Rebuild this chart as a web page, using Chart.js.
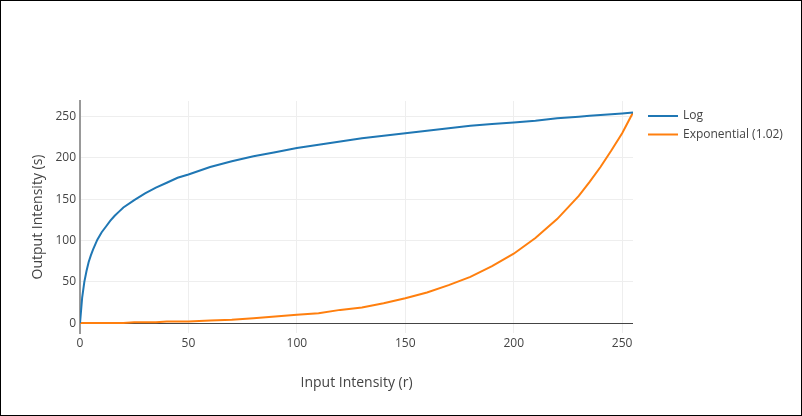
<!DOCTYPE html>
<html>
<head>
<meta charset="utf-8">
<script src="https://cdn.jsdelivr.net/npm/chart.js@4.4.0/dist/chart.umd.min.js"></script>
<style>
    html, body { margin: 0; padding: 0; background: #fff; }
    #box { width: 800px; height: 414px; border: 1px solid #000; }
    canvas { display: block; }
</style>
</head>
<body>
<div id="box"><canvas id="grafico" width="800" height="414"></canvas></div>
<script>
// Valores
var inputR = [0, 1, 2, 3, 4, 5, 6, 7, 8, 10, 12, 14, 16, 18, 20, 25, 30, 35, 40, 45, 50, 60, 70, 80, 90, 100,
    110, 120, 130, 140, 150, 160, 170, 180, 190, 200, 210, 220, 230, 235, 240, 245, 250, 255];
var logOut = [0, 31, 50, 63, 74, 82, 89, 95, 101, 110, 117, 124, 130, 135, 140, 149, 157, 164, 170, 176, 180, 189, 196, 202, 207, 212,
    216, 220, 224, 227, 230, 233, 236, 239, 241, 243, 245, 248, 250, 251, 252, 253, 254, 255];
var expOut = [0, 0, 0, 0, 0, 0, 0, 0, 0, 0, 0, 0, 0, 0, 0, 1, 1, 1, 2, 2, 2, 3, 4, 6, 8, 10,
    12, 16, 19, 24, 30, 37, 46, 56, 69, 84, 103, 126, 154, 171, 189, 209, 230, 255];
var xTicks = [0, 50, 100, 150, 200, 250];
var yTicks = [0, 50, 100, 150, 200, 250];
var seriesNames = ['Log', 'Exponential (1.02)'];
var seriesColors = ['#1f77b4', '#ff7f0e'];
var tickFont = { family: '"Open Sans", sans-serif', size: 12 };
var titleFont = { family: '"Open Sans", sans-serif', size: 14 };

var toPoints = function(ys) {
    return inputR.map(function(r, i) { return { x: r, y: ys[i] }; });
};

var setTicks = function(values) {
    return function(scale) {
        scale.ticks = values.map(function(v) { return { value: v }; });
    };
};

// Legenda desenhada a direita
var legendPlugin = {
    id: 'sideLegend',
    afterDraw: function(chart) {
        var ctx = chart.ctx;
        ctx.save();
        chart.data.datasets.forEach(function(ds, i) {
            var y = 115 + i * 18.5;
            ctx.strokeStyle = ds.borderColor;
            ctx.lineWidth = 2;
            ctx.beginPath();
            ctx.moveTo(647, y);
            ctx.lineTo(677, y);
            ctx.stroke();
            ctx.fillStyle = '#444';
            ctx.font = '12px "Open Sans", sans-serif';
            ctx.textBaseline = 'middle';
            ctx.fillText(ds.label, 682, y);
        });
        ctx.restore();
    }
};

var context = document.getElementById('grafico').getContext('2d');
var chart = new Chart(context, {
    type: 'line',
    data: {
        datasets: [{
            label: seriesNames[0],
            data: toPoints(logOut),
            borderColor: seriesColors[0],
            borderWidth: 2,
            pointRadius: 0,
            tension: 0
        }, {
            label: seriesNames[1],
            data: toPoints(expOut),
            borderColor: seriesColors[1],
            borderWidth: 2,
            pointRadius: 0,
            tension: 0
        }]
    },
    options: {
        responsive: false,
        animation: false,
        devicePixelRatio: 1,
        layout: { padding: { top: 100, right: 168, left: 0, bottom: 0 } },
        plugins: { legend: { display: false }, tooltip: { enabled: false } },
        scales: {
            x: {
                type: 'linear',
                min: 0,
                max: 255,
                afterFit: function(scale) { scale.height = 82; },
                afterBuildTicks: setTicks(xTicks),
                ticks: { padding: 3, color: '#444', font: tickFont, maxRotation: 0 },
                grid: { color: '#eeeeee', drawTicks: false },
                border: { display: false },
                title: { display: true, text: 'Input Intensity (r)', color: '#444', font: titleFont, padding: { top: 0, bottom: 24 } }
            },
            y: {
                type: 'linear',
                min: -12,
                max: 269,
                afterFit: function(scale) { scale.width = 79; },
                afterBuildTicks: setTicks(yTicks),
                ticks: { padding: 4, color: '#444', font: tickFont },
                grid: {
                    drawTicks: false,
                    color: function(c) { return c.tick && c.tick.value === 0 ? '#444' : '#eeeeee'; }
                },
                border: { color: '#999', width: 2 },
                title: { display: true, text: 'Output Intensity (s)', color: '#444', font: titleFont, padding: { top: 29, bottom: 0 } }
            }
        }
    },
    plugins: [legendPlugin]
});
</script>
</body>
</html>
